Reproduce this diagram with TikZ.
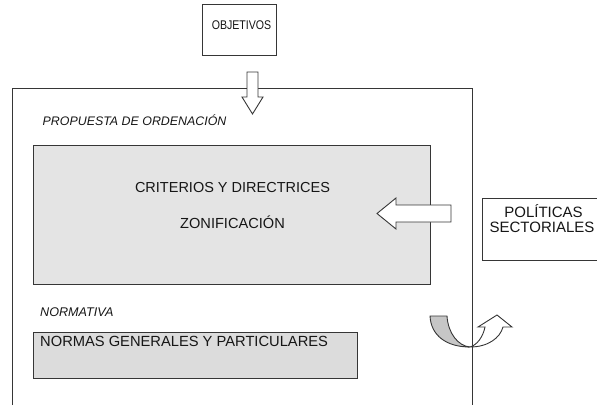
\documentclass[tikz,border=0pt]{standalone}
\usepackage{fontspec}
\setmainfont{Liberation Sans}
\definecolor{linec}{HTML}{363636}
\definecolor{boxfill}{HTML}{E4E4E4}
\definecolor{normfill}{HTML}{DCDCDC}
\definecolor{bandfill}{HTML}{C6C6C6}
\definecolor{txt}{HTML}{161616}
\begin{document}
\begin{tikzpicture}[x=1pt,y=-1pt,
  line/.style={draw=linec,line width=0.9pt},
  graybox/.style={line,fill=boxfill},
  whitearrow/.style={line,fill=white,line join=miter},
  lbl/.style={text=txt,inner sep=0pt},
]
\useasboundingbox (0,0) rectangle (597,405);
% gray content boxes
\draw[graybox] (33,145) rectangle (430,284);
\draw[line,fill=normfill] (33,332) rectangle (357,378);
% outer frame (open at bottom)
\draw[line] (12,405) -- (12,88) -- (472,88) -- (472,405);
% top box
\node[line,fill=white,minimum width=74pt,minimum height=51pt,anchor=north west,inner sep=0pt] (obj) at (202,4) {};
\node[lbl,anchor=base,font=\fontsize{12.6}{14}\selectfont] (objt) at (241.5,29) {\scalebox{0.84}[1]{OBJETIVOS}};
% right box
\node[line,fill=white,minimum width=120pt,minimum height=62pt,anchor=north west,inner sep=0pt] (pol) at (482,198) {};
\node[lbl,anchor=base,font=\fontsize{15}{17}\selectfont] (polt1) at (543.5,217) {POLÍTICAS};
\node[lbl,anchor=base,font=\fontsize{15}{17}\selectfont] (polt2) at (542,232) {SECTORIALES};
% down arrow
\draw[whitearrow] (247,72) -- (258,72) -- (258,97) -- (263,97) -- (252.5,114) -- (242,97) -- (247,97) -- cycle;
% left arrow
\draw[whitearrow] (451,205) -- (396,205) -- (396,198) -- (377,213.5) -- (396,229) -- (396,222) -- (451,222) -- cycle;
% texts
\node[lbl,anchor=base west,font=\itshape\fontsize{12.4}{14}\selectfont] (prop) at (42.5,125.5) {PROPUESTA DE ORDENACIÓN};
\node[lbl,anchor=base,font=\fontsize{14.5}{16}\selectfont] (crit) at (232.5,192.5) {CRITERIOS Y DIRECTRICES};
\node[lbl,anchor=base,font=\fontsize{14.6}{16}\selectfont] (zon) at (232.5,228) {ZONIFICACIÓN};
\node[lbl,anchor=base west,font=\itshape\fontsize{12.6}{14}\selectfont] (norm) at (40,316) {NORMATIVA};
\node[lbl,anchor=base west,font=\fontsize{14.7}{16}\selectfont] (normas) at (40,346) {NORMAS GENERALES Y PARTICULARES};
% curved U-turn arrow
\draw[line,fill=bandfill] (430,316) -- (447,316) .. controls (448,333) and (458,346) .. (470,347) .. controls (447,347) and (431,336) .. (430,316) -- cycle;
\draw[whitearrow] (470,347) .. controls (488,347) and (500,338) .. (503,327) -- (512,327) -- (497,315) -- (478,327) -- (485,327) .. controls (483,337) and (477,345) .. (470,347) -- cycle;
\end{tikzpicture}
\end{document}
